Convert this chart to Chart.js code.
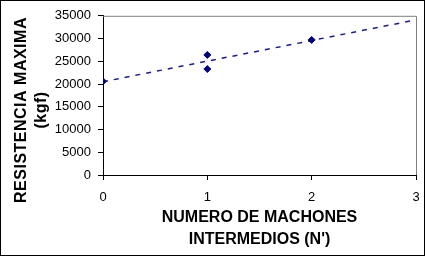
<!DOCTYPE html>
<html>
<head>
<meta charset="utf-8">
<script src="https://cdn.jsdelivr.net/npm/chart.js@4.4.1/dist/chart.umd.min.js"></script>
<style>
    html, body { margin: 0; padding: 0; background: #fff; }
    #frame { position: absolute; left: 0; top: 0; width: 425px; height: 256px; box-sizing: border-box; border: 1px solid #000; }
    canvas { display: block; }
</style>
</head>
<body>
<div id="frame"><canvas id="chart" width="423" height="254"></canvas></div>
<script>
"use strict";

// measured points (N' vs max resistance)
const machones = [0, 1, 1, 2];
const resistencia = [20600, 26400, 23300, 29700];

// linear trend line end points
const trendX = [0, 3];
const trendY = [20500, 34100];

const yTitle = ['RESISTENCIA MAXIMA', '(kgf)'];
const xTitle = ['NUMERO DE MACHONES', 'INTERMEDIOS (N\')'];

const NAVY = '#000080';
const FONT = "'Liberation Sans', Arial, sans-serif";

// y title drawn by hand so it can sit a bit lower than the plot centre
const frameAndTitle = {
    id: 'frameAndTitle',
    afterDraw(chart) {
        const { ctx, chartArea } = chart;
        ctx.save();
        ctx.strokeStyle = '#808080';
        ctx.lineWidth = 1;
        ctx.beginPath();
        ctx.moveTo(chartArea.left, chartArea.top + 0.5);
        ctx.lineTo(chartArea.right + 0.5, chartArea.top + 0.5);
        ctx.lineTo(chartArea.right + 0.5, chartArea.bottom);
        ctx.stroke();

        ctx.fillStyle = '#000';
        ctx.font = 'bold 16px ' + FONT;
        ctx.letterSpacing = '0.5px';
        ctx.textAlign = 'center';
        ctx.textBaseline = 'middle';
        ctx.translate(21, 109);
        ctx.rotate(-Math.PI / 2);
        yTitle.forEach((line, i) => ctx.fillText(line, 0, i * 20));
        ctx.restore();
    }
};

new Chart(document.getElementById('chart'), {
    type: 'scatter',
    data: {
        datasets: [
            {
                label: 'ensayos',
                data: machones.map((x, i) => ({ x, y: resistencia[i] })),
                pointStyle: 'rectRot',
                pointRadius: 3.5,
                backgroundColor: NAVY,
                borderColor: NAVY,
                borderWidth: 1
            },
            {
                label: 'tendencia',
                data: trendX.map((x, i) => ({ x, y: trendY[i] })),
                showLine: true,
                borderColor: '#1a1a9a',
                borderWidth: 1.5,
                borderDash: [5, 6],
                pointRadius: 0
            }
        ]
    },
    options: {
        responsive: false,
        animation: false,
        layout: { autoPadding: false, padding: { top: 14, right: 8, left: 0, bottom: 0 } },
        plugins: {
            legend: { display: false },
            tooltip: { enabled: false }
        },
        scales: {
            x: {
                type: 'linear',
                min: 0,
                max: 3,
                afterFit: (scale) => {
                    // fixed plot box, no extra room for the end labels
                    scale.height = 80;
                    scale.paddingLeft = 0;
                    scale.paddingRight = 0;
                },
                ticks: {
                    stepSize: 1,
                    color: '#000',
                    padding: 10,
                    font: { family: FONT, size: 13 }
                },
                grid: { drawOnChartArea: false, tickLength: 5, color: '#000' },
                border: { color: '#000' },
                title: {
                    display: true,
                    text: xTitle,
                    color: '#000',
                    padding: { top: 0, bottom: 4 },
                    font: { family: FONT, size: 16, weight: 'bold', lineHeight: 1.375 }
                }
            },
            y: {
                min: 0,
                max: 35000,
                afterFit: (scale) => { scale.width = 102; },
                ticks: {
                    stepSize: 5000,
                    color: '#000',
                    padding: 7,
                    font: { family: FONT, size: 13 },
                    callback: (value) => String(value)
                },
                grid: { drawOnChartArea: false, tickLength: 5, color: '#000' },
                border: { color: '#000' }
            }
        }
    },
    plugins: [frameAndTitle]
});
</script>
</body>
</html>
